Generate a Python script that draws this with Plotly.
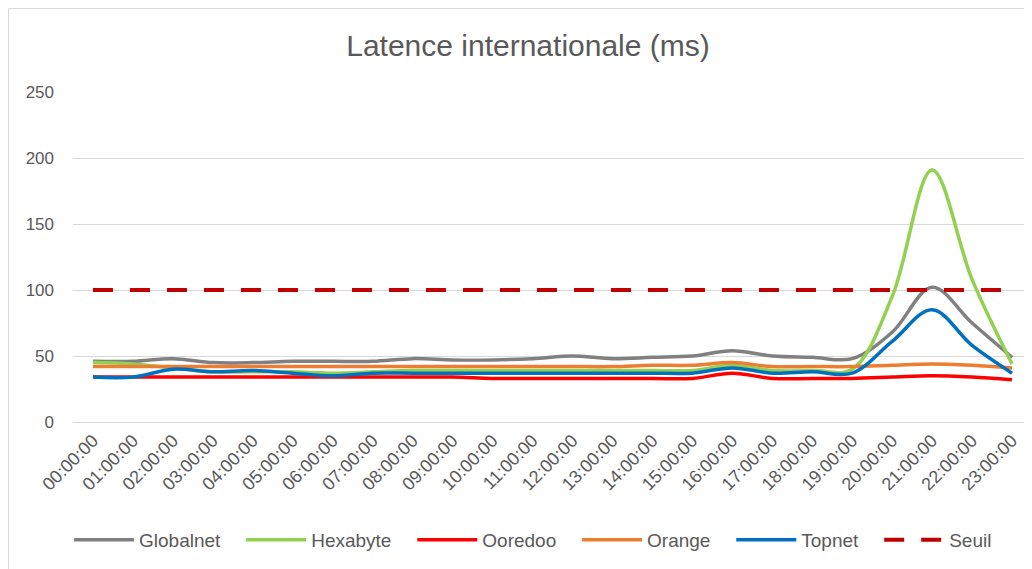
import plotly.graph_objects as go

hours = ["00:00:00", "01:00:00", "02:00:00", "03:00:00", "04:00:00", "05:00:00",
         "06:00:00", "07:00:00", "08:00:00", "09:00:00", "10:00:00", "11:00:00",
         "12:00:00", "13:00:00", "14:00:00", "15:00:00", "16:00:00", "17:00:00",
         "18:00:00", "19:00:00", "20:00:00", "21:00:00", "22:00:00", "23:00:00"]

globalnet = [46, 46, 48, 45, 45, 46, 46, 46, 48, 47, 47, 48, 50, 48, 49, 50, 54, 50, 49, 48, 68, 102, 75, 49]
hexabyte = [45, 44, 41, 38, 38, 38, 37, 38, 39, 39, 39, 39, 39, 39, 39, 39, 43, 39, 39, 40, 95, 191, 108, 44]
ooredoo = [34, 34, 34, 34, 34, 34, 34, 34, 34, 34, 33, 33, 33, 33, 33, 33, 37, 33, 33, 33, 34, 35, 34, 32]
orange = [42, 42, 42, 42, 42, 42, 42, 42, 42, 42, 42, 42, 42, 42, 43, 43, 45, 42, 42, 42, 43, 44, 43, 41]
topnet = [34, 34, 40, 38, 39, 37, 35, 37, 37, 37, 37, 37, 37, 37, 37, 37, 41, 37, 38, 37, 61, 85, 58, 37]
seuil = [100, 100, 100, 100, 100, 100, 100, 100, 100, 100, 100, 100,
         100, 100, 100, 100, 100, 100, 100, 100, 100, 100, 100, 100]

series = [
    ("Globalnet", globalnet, "#808080", None),
    ("Hexabyte", hexabyte, "#92D050", None),
    ("Ooredoo", ooredoo, "#FF0000", None),
    ("Orange", orange, "#ED7D31", None),
    ("Topnet", topnet, "#0070C0", None),
    ("Seuil", seuil, "#C00000", "20px,17px"),
]

FONT = "Liberation Sans, Arial, sans-serif"
GREY = "#595959"
PAD = "\u00a0\u00a0\u00a0"

# page body has an 8px offset; the figure is sized so the visible area is 1032x569
W, H = 1024, 561
L, T, PW, PH = 65, 84, 959, 330

fig = go.Figure()
for name, vals, color, dash in series:
    line = dict(color=color, width=4 if dash else 3.5)
    if dash:
        line["dash"] = dash
    else:
        line["shape"] = "spline"
        line["smoothing"] = 1.0
    fig.add_trace(go.Scatter(x=hours, y=vals, name=name + PAD, mode="lines", line=line))

fig.update_layout(
    width=W, height=H,
    margin=dict(l=L, r=0, t=T, b=147),
    paper_bgcolor="white", plot_bgcolor="white",
    font=dict(family=FONT, color=GREY, size=17),
    title=dict(text="Latence internationale (ms)", x=(528 - 8) / W, xanchor="center",
               xref="container",
               y=1 - 37 / H, yanchor="middle", yref="container",
               font=dict(size=30, color=GREY, family=FONT)),
    xaxis=dict(type="category", range=[-0.5, 23.5], tickangle=-45,
               showgrid=False, showline=True, linecolor="#D9D9D9", linewidth=1,
               ticks="", tickfont=dict(size=18, color=GREY), fixedrange=True,
               automargin=False),
    yaxis=dict(range=[0, 250], tickvals=[0, 50, 100, 150, 200, 250],
               showgrid=True, gridcolor="#D9D9D9", gridwidth=1,
               zeroline=False, showline=False, ticks="",
               ticklabelstandoff=18, automargin=False,
               tickfont=dict(size=17, color=GREY), fixedrange=True),
    legend=dict(orientation="h", x=(541 - 8) / W, xanchor="center", xref="container",
                y=1 - 532 / H, yanchor="middle", yref="container",
                font=dict(size=19, color=GREY), itemwidth=60,
                traceorder="normal"),
    showlegend=True,
    shapes=[
        dict(type="line", xref="paper", yref="paper",
             x0=(0.5 - L) / PW, x1=(0.5 - L) / PW,
             y0=(T + PH - H) / PH, y1=(T + PH - 0.5) / PH,
             line=dict(color="#D9D9D9", width=1)),
        dict(type="line", xref="paper", yref="paper",
             x0=(0.5 - L) / PW, x1=(W - L) / PW,
             y0=(T + PH - 0.5) / PH, y1=(T + PH - 0.5) / PH,
             line=dict(color="#D9D9D9", width=1)),
    ],
)

fig.write_html("out.html")
